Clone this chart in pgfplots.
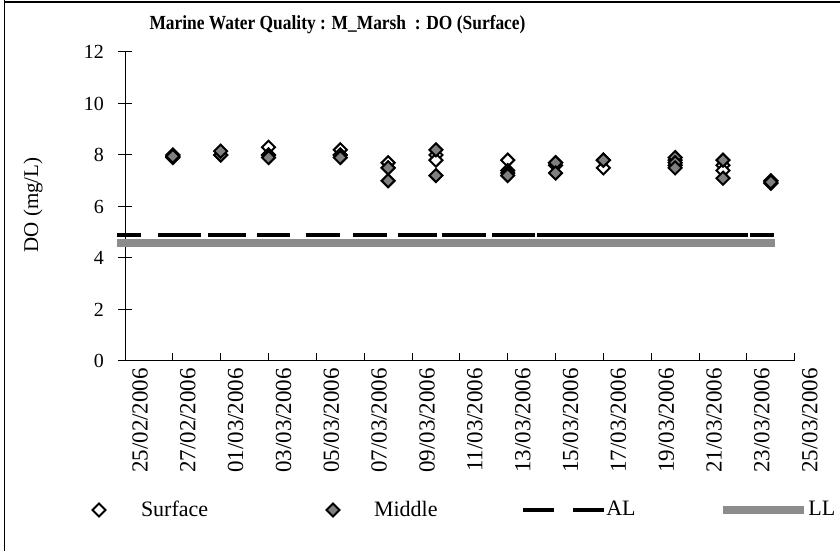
\documentclass[border=0pt]{standalone}
\usepackage{fontspec}
\setmainfont{Liberation Serif}
\usepackage{pgfplots}
\pgfplotsset{compat=1.18}
\definecolor{llgray}{RGB}{140,140,140}
\definecolor{midgray}{RGB}{128,128,128}

\begin{document}
\fontsize{10pt}{12pt}\selectfont
\begin{tikzpicture}
\path[use as bounding box] (0,0) rectangle (420pt,275.5pt);
% outer frame (top and left edges visible)
\draw[line width=1.2pt] (2.2pt,274.6pt) -- (420pt,274.6pt);
\draw[line width=0.6pt] (2.2pt,0) -- (2.2pt,275.5pt);
\node[font=\bfseries] at (168.75pt,263pt) {\scalebox{0.87}[1]{Marine Water Quality : M\_Marsh\ \ : DO (Surface)}};
\node[rotate=90, font=\fontsize{10.5pt}{12pt}\selectfont] at (16.5pt,173pt) {DO (mg/L)};

\begin{axis}[
    at={(62.5pt,95pt)}, anchor=south west,
    x=11.96pt, y=12.875pt,
    xmin=0, xmax=28, ymin=0, ymax=12,
    clip=false,
    axis x line*=bottom, axis y line*=left,
    x axis line style={-, line width=0.5pt},
    y axis line style={-, line width=0.5pt},
    xtick={0,2,...,28},
    xticklabels={25/02/2006,27/02/2006,01/03/2006,03/03/2006,05/03/2006,07/03/2006,09/03/2006,11/03/2006,13/03/2006,15/03/2006,17/03/2006,19/03/2006,21/03/2006,23/03/2006,25/03/2006},
    ytick={0,2,...,12},
    xtick align=inside, ytick align=center,
    major tick length=7pt,
    major x tick style={/pgfplots/major tick length=3.85pt},
    tick style={black, line width=0.5pt},
    /pgf/number format/assume math mode=true,
    tick label style={font=\fontsize{10pt}{12pt}\selectfont},
    yticklabel style={xshift=-3.5pt},
    xticklabel style={rotate=90, anchor=east, yshift=-7.5pt, font=\fontsize{11.5pt}{12pt}\selectfont},
    legend columns=4,
    legend cell align=left,
    legend style={at={(axis description cs:-0.0642,-0.482)}, anchor=west,
        draw=none, fill=none, inner sep=0pt, outer sep=0pt,
        font=\fontsize{11pt}{12pt}\selectfont,
        nodes={inner xsep=0pt, inner ysep=1pt},
        /tikz/every even column/.append style={column sep=0pt}},
]

% Surface
\addplot[only marks, mark=square*, mark size=2.3pt,
    mark options={rotate=45, draw=black, fill=white, line width=1pt},
    legend image code/.code={\path[draw=none, fill=none] (0pt,-4pt) rectangle (29.5pt,4pt);
        \draw plot[only marks] coordinates {(8.5pt,0pt)};}]
coordinates {
    (2,7.9) (4,8.0) (6,8.3) (6,8.0) (9,8.2) (9,8.0)
    (11,7.7) (11,7.5) (13,8.0) (13,7.8) (16,7.8) (16,7.4)
    (18,7.6) (18,7.7) (20,7.5) (20,7.8) (23,7.8) (23,7.6)
    (25,7.6) (25,7.4) (27,7.0)
};
\addlegendentry{\makebox[87.5pt][l]{Surface}}

% Middle
\addplot[only marks, mark=square*, mark size=2.3pt,
    mark options={rotate=45, draw=black, fill=midgray, line width=1pt},
    legend image code/.code={\path[draw=none, fill=none] (0pt,-4pt) rectangle (29pt,4pt);
        \draw plot[only marks] coordinates {(8.5pt,0pt)};}]
coordinates {
    (2,8.0) (2,7.95) (4,8.0) (4,8.15) (6,8.0) (6,7.9)
    (9,8.0) (9,7.9) (11,7.5) (11,7.0) (13,8.2) (13,7.2)
    (16,7.3) (16,7.2) (18,7.7) (18,7.3) (20,7.8) (20,7.8)
    (23,7.9) (23,7.7) (23,7.5) (25,7.8) (25,7.1) (27,6.9) (27,6.95)
};
\addlegendentry{\makebox[73.5pt][l]{Middle}}

% AL
\addplot[black, line width=2.15pt, unbounded coords=jump,
    legend image code/.code={\path[draw=none, fill=none] (0pt,-4pt) rectangle (40.5pt,4pt);
        \draw[black, line width=2.15pt] (0pt,0pt) -- (15.5pt,0pt) (25pt,0pt) -- (40.5pt,0pt);}]
coordinates {
    (-0.33,4.9) (0.67,4.9) (1,nan)
    (1.37,4.9) (3.18,4.9) (3,nan)
    (3.46,4.9) (5.06,4.9) (5,nan)
    (5.51,4.9) (6.90,4.9) (7,nan)
    (7.55,4.9) (8.99,4.9) (9,nan)
    (9.54,4.9) (10.94,4.9) (11,nan)
    (11.40,4.9) (13.03,4.9) (13,nan)
    (13.24,4.9) (15.09,4.9) (15,nan)
    (15.33,4.9) (17.14,4.9) (17,nan)
    (17.21,4.9) (26.06,4.9) (26,nan)
    (26.13,4.9) (27.13,4.9)
};
\addlegendentry{\makebox[56.5pt][l]{AL}}

% LL
\addplot[llgray, line width=4pt,
    legend image code/.code={\path[draw=none, fill=none] (0pt,-4pt) rectangle (40.5pt,4pt);
        \draw[llgray, line width=4pt] (0pt,0pt) -- (40.5pt,0pt);}]
coordinates {(-0.33,4.6) (27.17,4.6)};
\addlegendentry{LL}
\end{axis}
\end{tikzpicture}
\end{document}
